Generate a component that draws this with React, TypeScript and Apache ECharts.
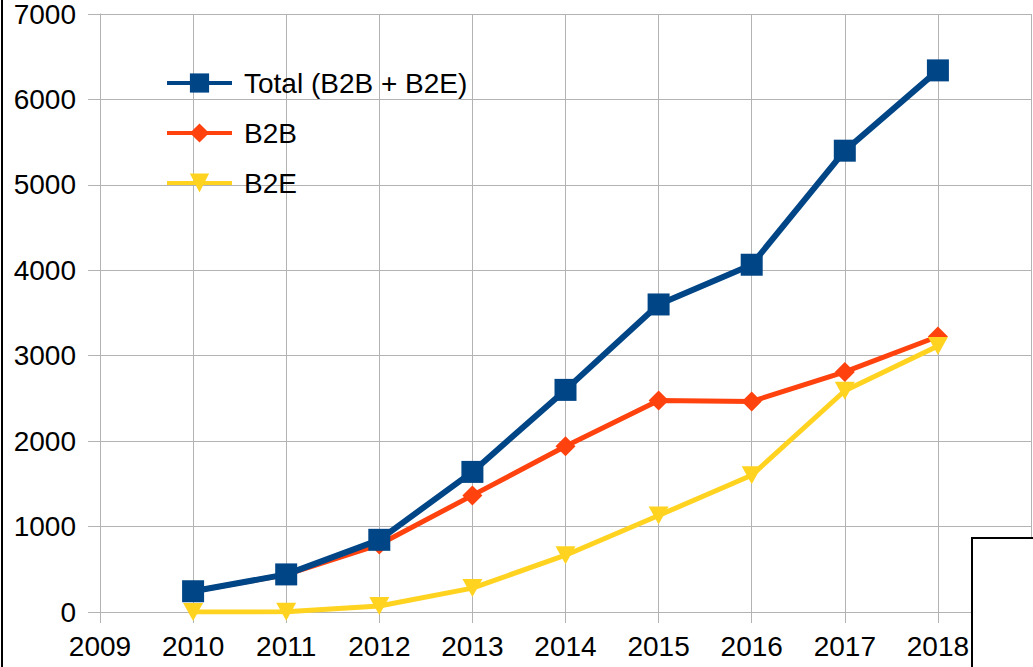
import React, { useEffect, useRef } from "react";
import * as echarts from "echarts";

const years = [2010, 2011, 2012, 2013, 2014, 2015, 2016, 2017, 2018];
const totalValues = [243, 440, 845, 1640, 2600, 3600, 4065, 5400, 6340];
const b2bValues = [243, 438, 790, 1365, 1940, 2477, 2465, 2810, 3225];
const b2eValues = [0, 2, 70, 280, 665, 1130, 1600, 2590, 3115];
const seriesNames = ["Total (B2B + B2E)", "B2B", "B2E"];
const colors = ["#004586", "#ff420e", "#ffd320"];

export default function App() {
  const ref = useRef<HTMLDivElement>(null);
  useEffect(() => {
    document.body.style.margin = "0";
    const chart = echarts.init(ref.current!, null, { renderer: "svg" });
    const toPairs = (vals: number[]) => years.map((y, i) => [y, vals[i]]);
    const font = "'Liberation Sans', Arial, sans-serif";
    chart.setOption({
      animation: false,
      textStyle: { fontFamily: font },
      grid: { left: 100, right: 2, top: 13, bottom: 55, containLabel: false },
      legend: {
        orient: "vertical",
        left: 160,
        top: 64,
        itemWidth: 65,
        itemHeight: 24,
        itemGap: 22,
        lineStyle: { width: 4 },
        textStyle: { fontSize: 28, color: "#000", fontFamily: font, padding: [0, 0, 0, 7] },
        data: seriesNames,
      },
      xAxis: {
        type: "value",
        min: 2009,
        max: 2019,
        interval: 1,
        axisLine: { show: true, lineStyle: { color: "#b3b3b3", width: 1 } },
        axisTick: { show: true, length: 11, lineStyle: { color: "#b3b3b3" } },
        splitLine: { show: true, lineStyle: { color: "#b3b3b3", width: 1 } },
        axisLabel: {
          fontSize: 28,
          color: "#000",
          margin: 20,
          showMaxLabel: false,
          formatter: (v: number) => (v >= 2019 ? "" : String(v)),
        },
      },
      yAxis: {
        type: "value",
        min: 0,
        max: 7000,
        interval: 1000,
        axisLine: { show: true, lineStyle: { color: "#b3b3b3", width: 1 } },
        axisTick: { show: true, length: 12, lineStyle: { color: "#b3b3b3" } },
        splitLine: { show: true, lineStyle: { color: "#b3b3b3", width: 1 } },
        axisLabel: { fontSize: 28, color: "#000", margin: 24, formatter: (v: number) => String(v) },
      },
      series: [
        {
          name: seriesNames[0],
          type: "line",
          data: toPairs(totalValues),
          symbol: "rect",
          symbolSize: 22,
          z: 4,
          lineStyle: { color: colors[0], width: 6 },
          itemStyle: { color: colors[0] },
        },
        {
          name: seriesNames[1],
          type: "line",
          data: toPairs(b2bValues),
          symbol: "diamond",
          symbolSize: 20,
          z: 2,
          lineStyle: { color: colors[1], width: 5 },
          itemStyle: { color: colors[1] },
        },
        {
          name: seriesNames[2],
          type: "line",
          data: toPairs(b2eValues),
          symbol: "path://M0,0 L10,0 L5,9 Z",
          symbolSize: [20, 18],
          z: 3,
          lineStyle: { color: colors[2], width: 5 },
          itemStyle: { color: colors[2] },
        },
      ],
      graphic: [
        {
          type: "line",
          shape: { x1: 2, y1: 0, x2: 2, y2: 667 },
          style: { stroke: "#000", lineWidth: 2 },
          z: 100,
        },
        {
          type: "rect",
          shape: { x: 972, y: 538, width: 80, height: 140 },
          style: { fill: "#fff", stroke: "#000", lineWidth: 2 },
          z: 100,
        },
      ],
    });
    return () => chart.dispose();
  }, []);
  return (
    <div
      ref={ref}
      style={{ position: "absolute", left: 0, top: 0, width: 1033, height: 667, background: "#fff" }}
    />
  );
}
